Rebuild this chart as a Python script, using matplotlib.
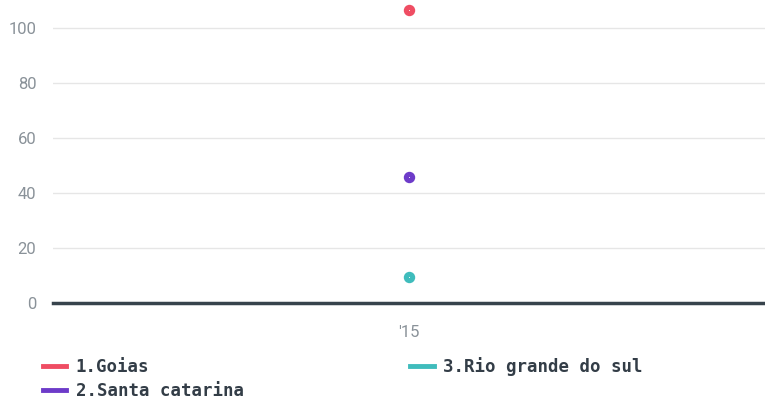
import matplotlib
matplotlib.use("Agg")
import matplotlib.pyplot as plt
from matplotlib.lines import Line2D

categories = ["'15"]
series_names = ["1.Goias", "2.Santa catarina", "3.Rio grande do sul"]
series_values = [[106.5], [45.8], [9.5]]
colors = ["#ef4d63", "#6d3bc9", "#3fbcbc"]
yticks = [0, 20, 40, 60, 80, 100]

W, H = 765, 405
fig = plt.figure(figsize=(W / 100, H / 100), dpi=100)
ax = fig.add_axes([53 / W, 1 - 303 / H, (W - 53) / W, 303 / H])

x = list(range(len(categories)))
for name, vals, c in zip(series_names, series_values, colors):
    ax.plot(x, vals, marker="o", markersize=7.2, color=c, linestyle="none", zorder=4)
    ax.plot(x, vals, marker="o", markersize=0.7, color="white", alpha=0.8,
            linestyle="none", markeredgewidth=0, zorder=5)

ax.set_xlim(-0.5, 0.5)
ax.set_ylim(0, 110.2)
ax.set_yticks(yticks)
ax.set_yticklabels([str(v) for v in yticks])
ax.set_xticks(x)
ax.set_xticklabels(categories)
for v in yticks[1:]:
    ax.axhline(v, color="#e6e6e6", linewidth=1, zorder=1)
ax.axhline(0, color="#37434c", linewidth=2.5, zorder=3, clip_on=False)

for s in ax.spines.values():
    s.set_visible(False)
ax.tick_params(axis="both", length=0, labelsize=12, labelcolor="#8a9299")
ax.tick_params(axis="y", pad=12)
ax.tick_params(axis="x", pad=16)
for t in ax.get_xticklabels() + ax.get_yticklabels():
    t.set_fontfamily("Roboto")
    t.set_fontstretch("condensed")

handles = [Line2D([0], [0], color=c, linewidth=3.5) for c in colors]
leg = fig.legend(handles, series_names, loc="upper left",
                 bbox_to_anchor=(27 / W, 1 - 341 / H), ncol=2, frameon=False,
                 handlelength=1.35, handletextpad=0.55, columnspacing=9.6,
                 labelspacing=0.38,
                 prop={"family": "DejaVu Sans Mono", "weight": "bold", "size": 12.5})
for t in leg.get_texts():
    t.set_color("#333d47")

fig.savefig("out.png", dpi=100)
